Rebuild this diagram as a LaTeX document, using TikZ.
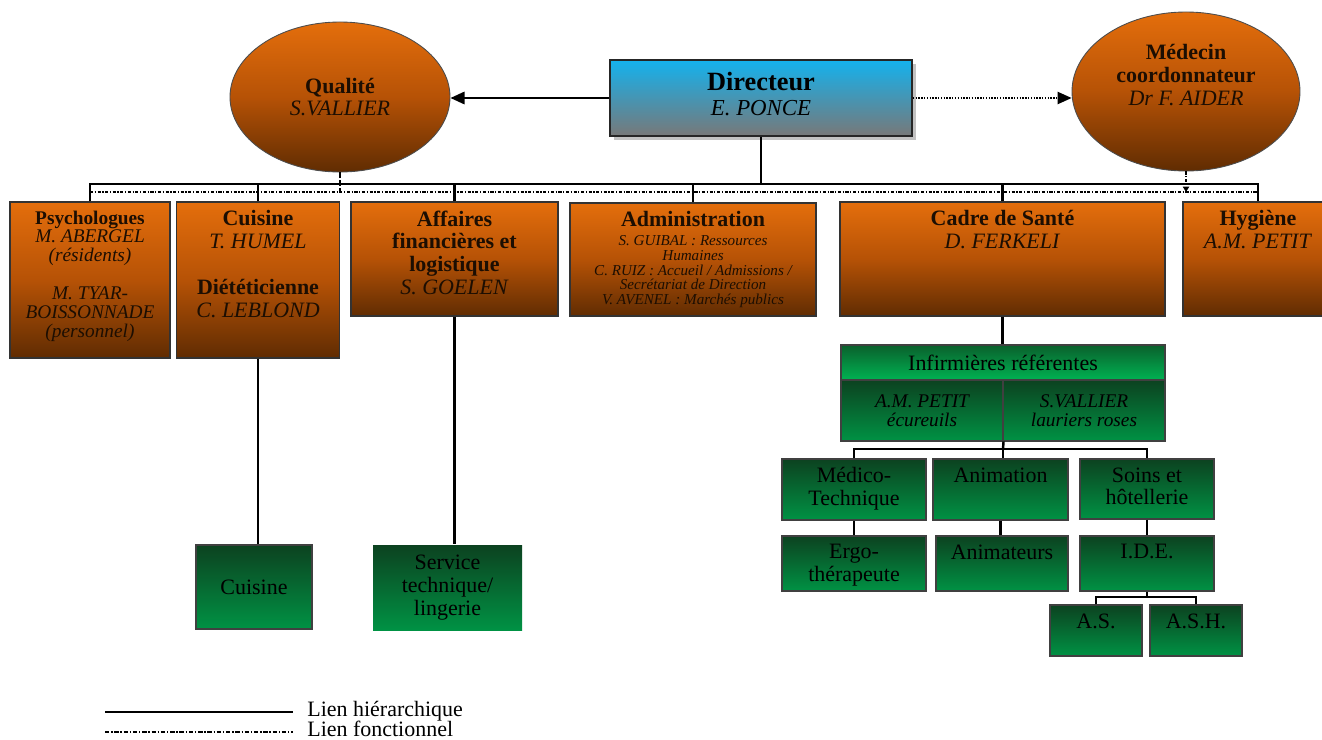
\documentclass[tikz,border=0pt]{standalone}
\usepackage{fontspec}
\setmainfont{Liberation Serif}
\usetikzlibrary{positioning,shapes.geometric,shadows,arrows.meta}

\definecolor{orTop}{RGB}{228,110,12}
\definecolor{orMid}{RGB}{182,82,6}
\definecolor{orBot}{RGB}{96,44,2}
\definecolor{grTop}{RGB}{12,66,32}
\definecolor{grBot}{RGB}{0,146,68}
\definecolor{hdTop}{RGB}{10,96,44}
\definecolor{hdBot}{RGB}{0,178,82}
\definecolor{dirTop}{RGB}{20,178,238}
\definecolor{dirBot}{RGB}{120,120,120}
\definecolor{ink}{RGB}{28,14,2}

\tikzset{
  boxsize/.style 2 args={minimum width=#1*0.02cm, minimum height=#2*0.02cm},
  orbox/.style={rectangle, draw=black!80, line width=0.6pt, inner sep=0pt,
    top color=orTop, bottom color=orBot, middle color=orMid},
  ell/.style={ellipse, draw=black!70, line width=0.5pt, inner sep=0pt,
    top color=orTop, bottom color=orBot, middle color=orMid,
    align=center, text=ink, font=\fontsize{12.5}{12}\selectfont},
  dirbox/.style={rectangle, draw=black!85, line width=0.8pt, inner sep=0pt,
    top color=dirTop, bottom color=dirBot, align=center,
    font=\fontsize{13}{14}\selectfont,
    drop shadow={shadow xshift=2.5pt, shadow yshift=-2.5pt, fill=black!40, opacity=0.6}},
  grbox/.style={rectangle, draw=black!75, line width=0.6pt, inner sep=0pt,
    top color=grTop, bottom color=grBot, align=center,
    font=\fontsize{12.5}{13}\selectfont},
  hdbox/.style={grbox, top color=hdTop, bottom color=hdBot},
  txt/.style={inner sep=0pt, align=center, text=ink, font=\fontsize{12.5}{13}\selectfont},
  gtxt/.style={txt, text=black},
  hier/.style={line width=1.4pt},
  fonct/.style={line width=0.9pt, dash pattern=on 1.8pt off 0.9pt on 0.7pt off 0.9pt},
  legtxt/.style={inner sep=0pt, anchor=base west, font=\fontsize{12.5}{13}\selectfont}
}

\begin{document}
\begin{tikzpicture}[x=0.02cm, y=-0.02cm]
  \clip (0,0) rectangle (1322,740);

  % direction
  \node[dirbox, boxsize={302}{76}, text depth=4.5pt] (dir) at (761,98)
    {\textbf{\fontsize{15}{14}\selectfont Directeur}\\\textit{E. PONCE}};
  \node[ell, boxsize={220}{150}] (qual) at (340,97) {\textbf{Qualité}\\\textit{S.VALLIER}};
  \node[ell, boxsize={228}{159}] (medc) at (1186,91.5) {};
  \node[txt] (medcT) at ([yshift=9.5pt]medc.center)
    {\textbf{Médecin}\\\textbf{coordonnateur}\\\textit{Dr F. AIDER}};

  \draw[hier, line width=1.2pt, -{Triangle[length=8pt,width=7pt]}] (dir.west) -- (dir.west -| qual.east);
  \draw[fonct, dash pattern=on 0.8pt off 0.8pt, -{Triangle[length=8pt,width=7pt]}]
    (dir.east) -- (dir.east -| medc.west);

  % services
  \node[orbox, boxsize={160}{156}] (psy) at (90,280) {};
  \node[txt, font=\fontsize{11}{10.8}\selectfont, below=5pt of psy.north] (psyT)
    {\textbf{Psychologues}\\\textit{M. ABERGEL}\\\textit{(résidents)}\\[10.8pt]
     \textit{M. TYAR-}\\\textit{BOISSONNADE}\\\textit{(personnel)}};

  \node[orbox, boxsize={163}{156}] (cuis) at (258,280) {};
  \node[txt, below=5pt of cuis.north] (cuisT)
    {\textbf{Cuisine}\\\textit{T. HUMEL}\\[13pt]\textbf{Diététicienne}\\\textit{C. LEBLOND}};

  \node[orbox, boxsize={207}{114}] (aff) at (454.5,259) {};
  \node[txt, below=5pt of aff.north] (affT)
    {\textbf{Affaires}\\\textbf{financières et}\\\textbf{logistique}\\\textit{S. GOELEN}};

  \node[orbox, boxsize={246}{113}] (adm) at (693,259.5) {};
  \node[txt, below=5pt of adm.north] (admT) {\textbf{Administration}};
  \node[txt, font=\fontsize{8.6}{8.4}\selectfont\itshape, below=4.5pt of admT] (admN)
    {S. GUIBAL : Ressources\\Humaines\\C. RUIZ : Accueil / Admissions /\\
     Secrétariat de Direction\\V. AVENEL : Marchés publics};

  \node[orbox, boxsize={325}{114}] (cadre) at (1002.5,259) {};
  \node[txt, below=5pt of cadre.north] (cadreT) {\textbf{Cadre de Santé}\\\textit{D. FERKELI}};

  \node[orbox, boxsize={150}{114}] (hyg) at (1258,259) {};
  \node[txt, below=5pt of hyg.north] (hygT) {\textbf{Hygiène}\\\textit{A.M. PETIT}};

  % liaisons
  \coordinate (busY) at (0,184);
  \coordinate (fbY) at (0,192);
  \draw[fonct] (psy.north |- fbY) -- (hyg.north |- fbY);
  \draw[line width=1.3pt, dash pattern=on 3pt off 1.5pt] (qual.south) -- (qual.south |- fbY);
  \draw[fonct, line width=1pt, -{Triangle[length=3pt,width=3.5pt]}] (medc.south) -- (medc.south |- fbY);
  \draw[hier] (psy.north) |- (dir.south |- busY) -| (hyg.north);
  \draw[hier] (dir.south) -- (dir.south |- busY);
  \foreach \b in {cuis,aff,adm,cadre}
    \draw[hier] (\b.north) -- (\b.north |- busY);

  % cuisine et logistique
  \node[grbox, boxsize={116}{84}] (cuisv) at (254,587) {Cuisine};
  \node[grbox, draw=none, boxsize={149}{85}] (serv) at (447.5,587.5) {Service\\technique/\\lingerie};
  \draw[hier] (cuis.south) -- (cuis.south |- cuisv.north);
  \draw[hier] (aff.south) -- (aff.south |- serv.north);

  % soins
  \node[hdbox, boxsize={324}{35}] (inf) at (1003,362.5) {Infirmières référentes};
  \node[grbox, boxsize={162}{61}, font=\fontsize{11}{11}\selectfont\itshape] (infA) at (922,410.5)
    {A.M. PETIT\\écureuils};
  \node[grbox, boxsize={162}{61}, font=\fontsize{11}{11}\selectfont\itshape] (infB) at (1084,410.5)
    {S.VALLIER\\lauriers roses};
  \draw[hier] (cadre.south) -- (cadre.south |- inf.north);

  \node[grbox, boxsize={144}{61}] (medtech) at (854,489.5) {};
  \node[gtxt, below=5pt of medtech.north] (medtechT) {Médico-\\Technique};
  \node[grbox, boxsize={135}{61}] (anim) at (1000.5,489.5) {};
  \node[gtxt, below=5pt of anim.north] (animT) {Animation};
  \node[grbox, boxsize={134}{60}] (soins) at (1147,489) {};
  \node[gtxt, below=5pt of soins.north] (soinsT) {Soins et\\hôtellerie};

  \node[grbox, boxsize={144}{55}] (ergo) at (854,563.5) {};
  \node[gtxt, below=5pt of ergo.north] (ergoT) {Ergo-\\thérapeute};
  \node[grbox, boxsize={132}{55}] (anims) at (1002,563.5) {};
  \node[gtxt, below=5pt of anims.north] (animsT) {Animateurs};
  \node[grbox, boxsize={134}{55}] (ide) at (1147,563.5) {};
  \node[gtxt, below=5pt of ide.north] (ideT) {I.D.E.};

  \node[grbox, boxsize={92}{51}] (as) at (1096,630.5) {};
  \node[gtxt, below=5pt of as.north] (asT) {A.S.};
  \node[grbox, boxsize={92}{51}] (ash) at (1196,630.5) {};
  \node[gtxt, below=5pt of ash.north] (ashT) {A.S.H.};

  \coordinate (f1) at (1003,449);
  \draw[hier] (infA.south east) -- (f1);
  \draw[hier] (medtech.north) |- (f1) -| (soins.north);
  \draw[hier] (f1) -- (f1 |- anim.north);
  \draw[hier] (medtech.south) -- (ergo.north);
  \draw[hier] (anim.south) -- (anim.south |- anims.north);
  \draw[hier] (soins.south) -- (ide.north);
  \coordinate (f2) at (1147,597);
  \draw[hier] (ide.south) -- (f2);
  \draw[hier] (as.north) |- (f2) -| (ash.north);

  % legende
  \coordinate (lg1) at (105,712);
  \coordinate (lg1e) at (293,712);
  \coordinate (lg2) at (105,732);
  \coordinate (lg2e) at (293,732);
  \draw[line width=1.3pt] (lg1) -- (lg1e);
  \draw[line width=1pt, dash pattern=on 2.5pt off 1pt on 0.8pt off 1pt] (lg2) -- (lg2e);
  \node[legtxt] (leg1) at (307,716) {Lien hiérarchique};
  \node[legtxt] (leg2) at (307,736.5) {Lien fonctionnel};
\end{tikzpicture}
\end{document}
